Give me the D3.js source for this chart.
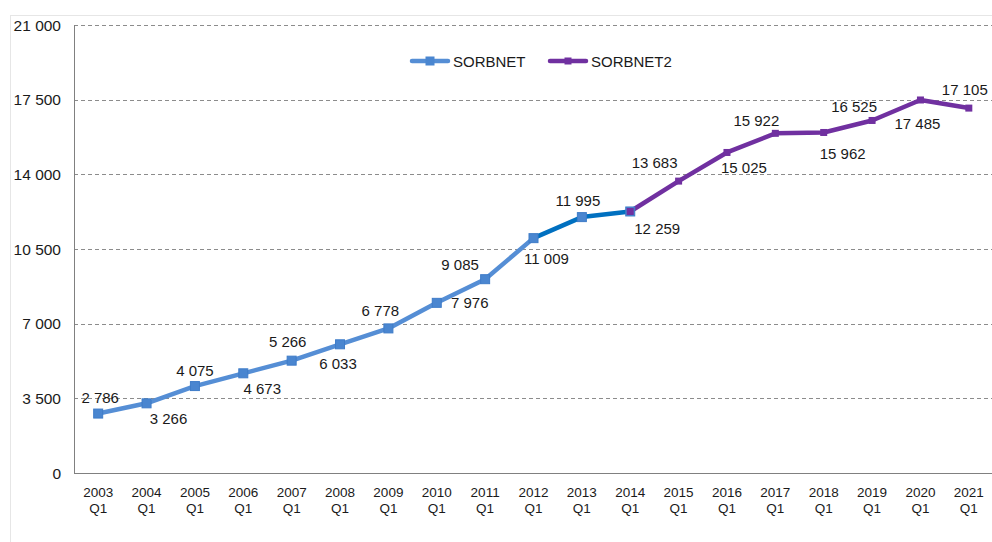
<!DOCTYPE html>
<html>
<head>
<meta charset="utf-8">
<script src="https://cdn.jsdelivr.net/npm/d3@7"></script>
<style>
  body { margin: 0; background: #fff; }
  svg text { font-family: "Liberation Sans", Arial, sans-serif; fill: #1a1a1a; }
</style>
</head>
<body>
<div id="chart"></div>
<script>
const years = ["2003","2004","2005","2006","2007","2008","2009","2010","2011","2012",
  "2013","2014","2015","2016","2017","2018","2019","2020","2021"];
const sorbnet = [2786, 3266, 4075, 4673, 5266, 6033, 6778, 7976, 9085, 11009, 11995, 12259];
const sorbnet2 = [12259, 13683, 15025, 15922, 15962, 16525, 17485, 17105];
const yTicks = [0, 3500, 7000, 10500, 14000, 17500, 21000];

// label offsets from each point (picked by hand, like the original)
const labelDx = [2, 22, 0, 19, -4, -2, -8, 33, -25, 13, -4, 27, -24, 17, -19, 19, -18, -3, -4];
const labelDy = [-16, 15, -16, 15, -19, 19, -18, 0, -15, 20, -17, 17, -19, 15, -13, 21, -14, 24, -19];

const width = 992, height = 542;
const plotL = 74, plotR = 993, plotT = 25, plotB = 473;

const svg = d3.select("#chart")
  .append("svg")
  .attr("width", width)
  .attr("height", height);

// outer frame
svg.append("rect")
  .attr("x", 10.5).attr("y", 15.5)
  .attr("width", 990).attr("height", 540)
  .attr("fill", "none")
  .attr("stroke", "#e6e6e6");

const x = d3.scaleBand()
  .domain(years)
  .range([plotL, plotR]);

const yScale = d3.scaleLinear()
  .domain([0, 21000])
  .range([plotB, plotT]);

const fmt = v => d3.format(",")(v).replace(/,/g, " ");
const cx = i => x(years[i]) + x.bandwidth() / 2;

// grid
svg.selectAll(".grid")
  .data(yTicks.filter(d => d > 0))
  .join("line")
  .attr("class", "grid")
  .attr("x1", plotL).attr("x2", width)
  .attr("y1", d => Math.round(yScale(d)) + 0.5)
  .attr("y2", d => Math.round(yScale(d)) + 0.5)
  .attr("stroke", "#8c8c8c")
  .attr("stroke-dasharray", "4,3");

// axes lines
svg.append("line")
  .attr("x1", plotL + 0.5).attr("x2", plotL + 0.5)
  .attr("y1", plotT).attr("y2", plotB)
  .attr("stroke", "#808080");
svg.append("line")
  .attr("x1", plotL).attr("x2", width)
  .attr("y1", plotB + 0.5).attr("y2", plotB + 0.5)
  .attr("stroke", "#808080");

// y labels
svg.selectAll(".ylab")
  .data(yTicks)
  .join("text")
  .attr("class", "ylab")
  .attr("x", 61)
  .attr("y", d => yScale(d) + 5.5)
  .attr("text-anchor", "end")
  .attr("font-size", 15.5)
  .text(fmt);

// x labels
const xl = svg.selectAll(".xlab")
  .data(years)
  .join("text")
  .attr("class", "xlab")
  .attr("text-anchor", "middle")
  .attr("font-size", 13.5);
xl.append("tspan").attr("x", (d, i) => cx(i)).attr("y", 497).text(d => d);
xl.append("tspan").attr("x", (d, i) => cx(i)).attr("y", 513).text("Q1");

const line = d3.line()
  .x(d => cx(d.i))
  .y(d => yScale(d.v));

const s1 = sorbnet.map((v, i) => ({ i, v }));
const s2 = sorbnet2.map((v, i) => ({ i: i + 11, v }));

svg.append("path")
  .datum(s1.slice(0, 10))
  .attr("d", line)
  .attr("fill", "none")
  .attr("stroke", "#558ed5")
  .attr("stroke-width", 4.5)
  .attr("stroke-linejoin", "round");

svg.append("path")
  .datum(s1.slice(9))
  .attr("d", line)
  .attr("fill", "none")
  .attr("stroke", "#0070c0")
  .attr("stroke-width", 4.5)
  .attr("stroke-linejoin", "round");

svg.append("path")
  .datum(s2)
  .attr("d", line)
  .attr("fill", "none")
  .attr("stroke", "#7030a0")
  .attr("stroke-width", 4.5)
  .attr("stroke-linejoin", "round");

// markers
svg.selectAll(".m1")
  .data(s1)
  .join("rect")
  .attr("class", "m1")
  .attr("x", d => cx(d.i) - 4.5)
  .attr("y", d => yScale(d.v) - 4.5)
  .attr("width", 9).attr("height", 9)
  .attr("fill", "#4a86d0")
  .attr("stroke", "#3f7cc8")
  .attr("stroke-width", 1);

svg.selectAll(".m2")
  .data(s2)
  .join("rect")
  .attr("class", "m2")
  .attr("x", d => cx(d.i) - 3.5)
  .attr("y", d => yScale(d.v) - 3.5)
  .attr("width", 7).attr("height", 7)
  .attr("fill", "#7030a0");

// data labels
const allPts = s1.concat(s2.slice(1));
svg.selectAll(".dlab")
  .data(allPts)
  .join("text")
  .attr("class", "dlab")
  .attr("x", d => cx(d.i) + labelDx[d.i])
  .attr("y", d => yScale(d.v) + labelDy[d.i] + 5.5)
  .attr("text-anchor", "middle")
  .attr("font-size", 15)
  .text(d => fmt(d.v));

// legend
const legend = [
  { name: "SORBNET", color: "#558ed5", x: 410, size: 9 },
  { name: "SORBNET2", color: "#7030a0", x: 548, size: 7 }
];
const lg = svg.selectAll(".leg")
  .data(legend)
  .join("g")
  .attr("class", "leg")
  .attr("transform", d => `translate(${d.x},61)`);
lg.append("line")
  .attr("x1", 2).attr("x2", 38)
  .attr("stroke", d => d.color)
  .attr("stroke-width", 4.5)
  .attr("stroke-linecap", "round");
lg.append("rect")
  .attr("x", d => 20 - d.size / 2)
  .attr("y", d => -d.size / 2)
  .attr("width", d => d.size).attr("height", d => d.size)
  .attr("fill", d => d.color === "#558ed5" ? "#4a86d0" : d.color);
lg.append("text")
  .attr("x", 43).attr("y", 5.5)
  .attr("font-size", 15)
  .text(d => d.name);
</script>
</body>
</html>
